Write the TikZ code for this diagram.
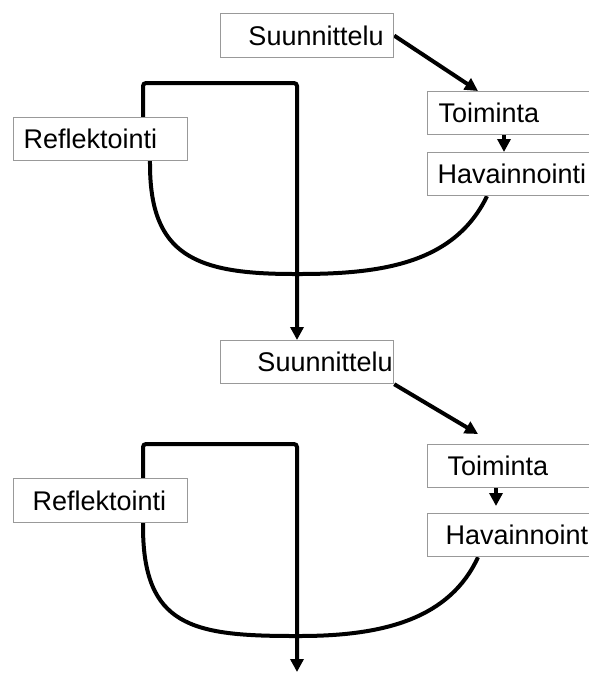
\documentclass[tikz,border=0pt]{standalone}
\usepackage{fontspec}
\setmainfont{Liberation Sans}
\usetikzlibrary{arrows.meta, calc, backgrounds}

\begin{document}
\begin{tikzpicture}[
  x=1pt, y=-1pt,
  box/.style      = {draw=gray!80, line width=1.2pt, fill=white, anchor=north west,
                     inner ysep=0pt, minimum height=43pt,
                     font=\fontsize{27}{30}\selectfont},
  arr/.style      = {-{Triangle[length=13pt, width=13pt]}, line width=4pt},
  loopline/.style = {line width=4pt, rounded corners=3pt}
]
  \useasboundingbox (0,0) rectangle (589,673);
  \clip (0,0) rectangle (589,673);

  %% First cycle
  \node[box, text width=153pt, inner xsep=10pt, align=right, minimum height=44pt]
        (sun1) at (220,13)  {Suunnittelu};
  \node[box, text width=153pt, inner xsep=11pt, align=left]  (toi1) at (427,91)  {Toiminta};
  \node[box, text width=155pt, inner xsep=10pt, align=left]  (hav1) at (427,152) {Havainnointi};
  \node[box, text width=154pt, inner xsep=10pt, align=left]  (ref1) at (13,117)  {Reflektointi};

  %% Second cycle
  \node[box, text width=171pt, inner xsep=1pt, align=right]  (sun2) at (220,340) {Suunnittelu};
  \node[box, text width=135pt, inner xsep=20pt, align=left]  (toi2) at (427,444) {Toiminta};
  \node[box, text width=157pt, inner xsep=18pt, align=left]  (hav2) at (427,513) {Havainnointi};
  \node[box, text width=136pt, inner xsep=19pt, align=left, minimum height=44pt]
        (ref2) at (13,478)  {Reflektointi};

  \coordinate (exit) at (297,672);

  \begin{scope}[on background layer]
    \draw[arr] (sun1.east) -- ($(toi1.north west)+(51,0)$);
    \draw[arr] ($(toi1.south west)+(77,0)$) -- ($(hav1.north west)+(77,0)$);
    \draw[loopline, arr] ($(hav1.south west)+(60,0)$)
          .. controls (455,262) and (385,274) .. (297,274)
          .. controls (195,274) and (150,255) .. ($(ref1.south west)+(137,0)$)
          -- ($(ref1.north west)+(130,0)$) -- ++(0,-34)
          -| ($(sun2.north west)+(77,0)$);

    \draw[arr] (sun2.south east) -- ($(toi2.north west)+(51,-10)$);
    \draw[arr] ($(toi2.south west)+(69,0)$) -- ($(hav2.north west)+(69,-7)$);
    \draw[loopline, arr] ($(hav2.south west)+(51,0)$)
          .. controls (450,618) and (385,636) .. (297,636)
          .. controls (192,636) and (143,626) .. ($(ref2.south west)+(130,0)$)
          -- ($(ref2.north west)+(130,0)$) -- ++(0,-34)
          -| (exit);
  \end{scope}
\end{tikzpicture}
\end{document}
